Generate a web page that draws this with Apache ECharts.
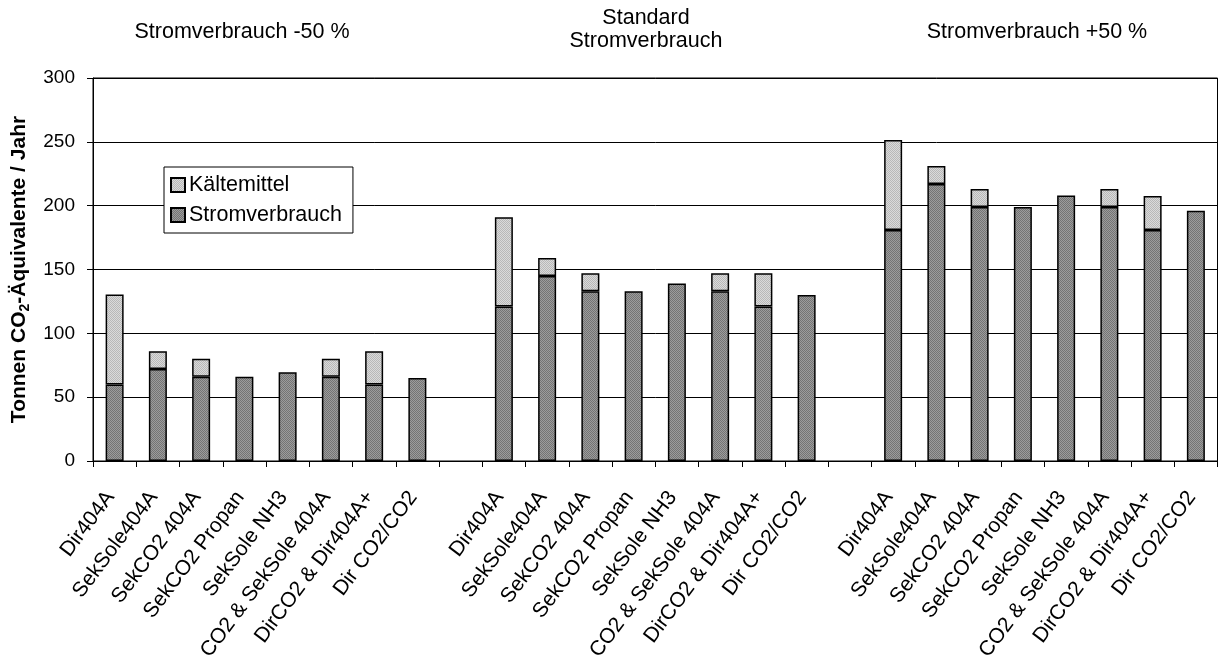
<!DOCTYPE html>
<html>
<head>
<meta charset="utf-8">
<script src="https://cdn.jsdelivr.net/npm/echarts@6/dist/echarts.min.js"></script>
<style>
html,body{margin:0;padding:0;background:#fff;}
#chart{width:1219px;height:660px;}
</style>
</head>
<body>
<div id="chart"></div>
<script>
// ---- data ----
const categories = ['Dir404A', 'SekSole404A', 'SekCO2 404A', 'SekCO2 Propan', 'SekSole NH3', 'CO2 & SekSole 404A', 'DirCO2 & Dir404A+', 'Dir CO2/CO2'];
const groupTitles = ['Stromverbrauch -50 %', 'Standard\nStromverbrauch', 'Stromverbrauch +50 %'];
const stromMinus50 = [60, 72, 66, 66, 69.5, 66, 60, 65];
const stromStandard = [121, 145, 133, 133, 139, 133, 121, 130];
const stromPlus50 = [181, 217, 199, 199, 208, 199, 181, 196];
const kaelteMinus50 = [70.5, 14, 14, null, null, 14, 26, null];
const kaelteStandard = [70, 14, 14, null, null, 14, 26, null];
const kaeltePlus50 = [70.5, 14, 14, null, null, 14, 26.5, null];
const yTicks = [0, 50, 100, 150, 200, 250, 300];
const seriesNames = ['Stromverbrauch', 'Kältemittel'];

// build x axis with one blank slot between groups
const xCats = [...categories, '', ...categories, '', ...categories];
const stromAll = [...stromMinus50, null, ...stromStandard, null, ...stromPlus50];
const kaelteAll = [...kaelteMinus50, null, ...kaelteStandard, null, ...kaeltePlus50];

function pattern(base, dot) {
  const cv = document.createElement('canvas');
  cv.width = 2; cv.height = 2;
  const ctx = cv.getContext('2d');
  ctx.fillStyle = base; ctx.fillRect(0, 0, 2, 2);
  ctx.fillStyle = dot; ctx.fillRect(0, 0, 1, 1); ctx.fillRect(1, 1, 1, 1);
  return cv;
}
const FONT = 'Liberation Sans, Arial, sans-serif';

const chart = echarts.init(document.getElementById('chart'), null, {renderer: 'canvas'});
const option = {
  animation: false,
  backgroundColor: '#fff',
  textStyle: {fontFamily: FONT, color: '#000'},
  grid: {left: 93, top: 78, right: 1.5, bottom: 199, containLabel: false, outerBoundsMode: 'none',
         show: true, borderColor: '#000', borderWidth: 1, backgroundColor: 'transparent'},
  legend: {
    data: ['Kältemittel', 'Stromverbrauch'],
    orient: 'vertical',
    left: 164, top: 167,
    backgroundColor: '#fff',
    borderColor: '#000', borderWidth: 1,
    padding: [7, 11, 7, 6],
    itemGap: 8,
    itemWidth: 14, itemHeight: 14,
    icon: 'rect',
    textStyle: {fontFamily: FONT, fontSize: 21.5, color: '#000', padding: [0, 0, 0, -1]}
  },
  xAxis: {
    type: 'category',
    data: xCats,
    boundaryGap: true,
    axisLine: {lineStyle: {color: '#000', width: 1}},
    axisTick: {show: true, interval: 0, length: 6, lineStyle: {color: '#000'}},
    axisLabel: {interval: 0, rotate: 53, fontSize: 21, color: '#000', fontFamily: FONT, margin: 27, padding: [0, 7, 0, 0]}
  },
  yAxis: {
    type: 'value',
    min: yTicks[0], max: yTicks[yTicks.length - 1], interval: yTicks[1] - yTicks[0],
    name: '{b|Tonnen CO}{s|2}{b|-Äquivalente / Jahr}',
    nameLocation: 'middle',
    nameGap: 59,
    nameTextStyle: {
      rich: {
        b: {fontFamily: FONT, fontSize: 21, fontWeight: 'bold', color: '#000', lineHeight: 26},
        s: {fontFamily: FONT, fontSize: 14, fontWeight: 'bold', color: '#000', lineHeight: 15, verticalAlign: 'bottom'}
      }
    },
    axisLine: {show: true, lineStyle: {color: '#000', width: 1}},
    axisTick: {show: true, length: 6, lineStyle: {color: '#000'}},
    axisLabel: {fontSize: 19, color: '#000', fontFamily: FONT, margin: 18},
    splitLine: {show: true, lineStyle: {color: '#000', width: 1}}
  },
  graphic: [
    {type: 'text', x: 242, y: 32, style: {text: groupTitles[0], font: '21.5px ' + FONT, fill: '#000', textAlign: 'center', textVerticalAlign: 'middle'}},
    {type: 'text', x: 646, y: 30, style: {text: groupTitles[1], font: '21.5px ' + FONT, fill: '#000', textAlign: 'center', textVerticalAlign: 'middle', lineHeight: 23}},
    {type: 'text', x: 1037, y: 32, style: {text: groupTitles[2], font: '21.5px ' + FONT, fill: '#000', textAlign: 'center', textVerticalAlign: 'middle'}}
  ],
  series: [
    {
      name: seriesNames[0], type: 'bar', stack: 'total', barWidth: 18,
      data: stromAll,
      itemStyle: {color: {image: pattern('#9c9c9c', '#747474'), repeat: 'repeat'}, borderColor: '#000', borderWidth: 1.5}
    },
    {
      name: seriesNames[1], type: 'bar', stack: 'total', barWidth: 18,
      data: kaelteAll,
      itemStyle: {color: {image: pattern('#dadada', '#b8b8b8'), repeat: 'repeat'}, borderColor: '#000', borderWidth: 1.5}
    }
  ]
};
chart.setOption(option);
</script>
</body>
</html>
